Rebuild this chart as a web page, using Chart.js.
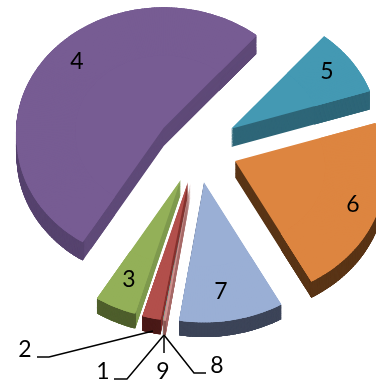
<!DOCTYPE html>
<html>
<head>
<meta charset="utf-8">
<style>
  html, body { margin: 0; padding: 0; background: #fff; }
  canvas { display: block; filter: blur(0.35px); }
</style>
<script src="https://cdn.jsdelivr.net/npm/chart.js@4"></script>
</head>
<body>
<canvas id="myChart" width="376" height="385"></canvas>
<script>
// data (share of the pie, %)
const categories = ['1', '2', '3', '4', '5', '6', '7', '8', '9'];
const shares = [0.02, 1.81, 4.14, 52.64, 8.83, 22.05, 10.28, 0.2, 0.02];

const topColors = ['#4f81bd', '#b24f4b', '#93b058', '#775c93', '#4499b3', '#dd8540', '#9aafd5', '#cf918f', '#b5c98c'];
const sideColors = ['#3a5f8c', '#86332f', '#7f9a4e', '#5f4a78', '#2e6678', '#5a3517', '#3d4559', '#a86b69', '#8fa56a'];
const rimDark = ['#2a4568', '#4a1a18', '#333f1e', '#3a2c4e', '#2e6678', '#5a3517', '#3d4559', '#8a5553', '#6f8350'];
const rimLight = ['#2a4568', '#4a1a18', '#52622e', '#584570', '#2e6678', '#5a3517', '#3d4559', '#8a5553', '#6f8350'];

// fake 3D settings
const tilt = 0.85;
const explode = 41;
const depth = 17;
const baseRadius = 148.5;
const wedgeStep = Math.PI / 180;

const leaderLines = [
    [[37, 357], [49, 357], [153, 331]],
    [[114, 379], [127, 379], [164, 335]],
    [[164, 335], [164, 353]],
    [[164, 335], [194, 373], [206, 373]]
];
const labelSpots = {
    '1': [103, 372], '2': [25, 350], '3': [129, 280], '4': [77, 62], '5': [327, 72],
    '6': [353, 205], '7': [221, 292], '8': [217, 366], '9': [163, 372]
};

// rim grows the nearer it sits to the viewer
function rimScale(mid, angle) {
    const y = explode * Math.sin(mid) + 150 * Math.sin(angle);
    return 1 + y * (y > 0 ? 0.085 : 0.04) / baseRadius;
}

function drawPiece(ctx, arc, mid, s, drop, color) {
    arc.options = { ...arc.options, backgroundColor: color };
    ctx.save();
    ctx.translate(arc.x, arc.y + drop);
    ctx.scale(1, tilt);
    ctx.translate(explode * Math.cos(mid), explode * Math.sin(mid));
    ctx.scale(s, s);
    ctx.translate(-arc.x, -arc.y);
    arc.draw(ctx);
    ctx.restore();
}

// one solid base, then thin wedges around the rim only, so no seams near the tip
function drawLayer(ctx, arc, pickColor, drop, inner, onlyFront) {
    const { startAngle, endAngle, circumference, innerRadius, options } = arc;
    const mid = (startAngle + endAngle) / 2;
    const lift = drop * (1 - 0.14 * Math.sin(mid));
    let smallest = 2;
    for (let a = startAngle; a <= endAngle; a += wedgeStep) {
        smallest = Math.min(smallest, rimScale(mid, a));
    }
    if (!inner) {
        drawPiece(ctx, arc, mid, smallest, lift, pickColor(mid));
        arc.options = options;
    }
    for (let a = startAngle; a < endAngle; a += wedgeStep) {
        const b = Math.min(a + wedgeStep * 2.5, endAngle);
        const c = (a + b) / 2;
        if (onlyFront && Math.sin(c) < -0.3) continue;
        arc.startAngle = a;
        arc.endAngle = b;
        arc.circumference = b - a;
        arc.innerRadius = inner || baseRadius * 0.6;
        drawPiece(ctx, arc, mid, rimScale(mid, c), lift, pickColor(c));
        arc.options = options;
    }
    Object.assign(arc, { startAngle, endAngle, circumference, innerRadius, options });
}

const pie3d = {
    id: 'pie3d',
    beforeDatasetsDraw(chart) {
        const ctx = chart.ctx;
        const all = chart.getDatasetMeta(0).data;
        const sinMid = arc => Math.sin((arc.startAngle + arc.endAngle) / 2);
        all.slice().sort((p, q) => sinMid(p) - sinMid(q)).forEach(arc => {
            const i = all.indexOf(arc);
            const span = Math.min(arc.circumference, Math.PI / 3);
            const rim = a => Chart.helpers.color(rimDark[i]).clone()
                .mix(Chart.helpers.color(rimLight[i]), Math.min(1, (a - arc.startAngle) / span)).hexString();
            for (let d = depth; d > 0; d--) {
                drawLayer(ctx, arc, () => sideColors[i], d, 0, false);
            }
            for (let d = depth; d > 0; d--) {
                drawLayer(ctx, arc, rim, d, arc.outerRadius - 3, true);
            }
            drawLayer(ctx, arc, () => topColors[i], 0, 0, false);
        });
        return false;
    },
    afterDraw(chart) {
        const ctx = chart.ctx;
        ctx.save();
        ctx.strokeStyle = '#000';
        ctx.lineWidth = 1.5;
        leaderLines.forEach(line => {
            ctx.beginPath();
            line.forEach((p, i) => i ? ctx.lineTo(p[0], p[1]) : ctx.moveTo(p[0], p[1]));
            ctx.stroke();
        });
        ctx.fillStyle = '#000';
        ctx.font = '23px Lato';
        ctx.textAlign = 'center';
        ctx.textBaseline = 'middle';
        categories.forEach(c => ctx.fillText(c, labelSpots[c][0], labelSpots[c][1]));
        ctx.restore();
    }
};

const ctx = document.getElementById('myChart').getContext('2d');

const myChart = new Chart(ctx, {
    type: 'pie',
    data: {
        labels: categories,
        datasets: [{
            data: shares,
            backgroundColor: topColors,
            borderWidth: 0
        }]
    },
    options: {
        responsive: false,
        animation: false,
        events: [],
        rotation: 189.5,
        radius: baseRadius,
        layout: { padding: { left: 18, bottom: 89 } },
        plugins: { legend: { display: false }, tooltip: { enabled: false } }
    },
    plugins: [pie3d]
});
</script>
</body>
</html>
